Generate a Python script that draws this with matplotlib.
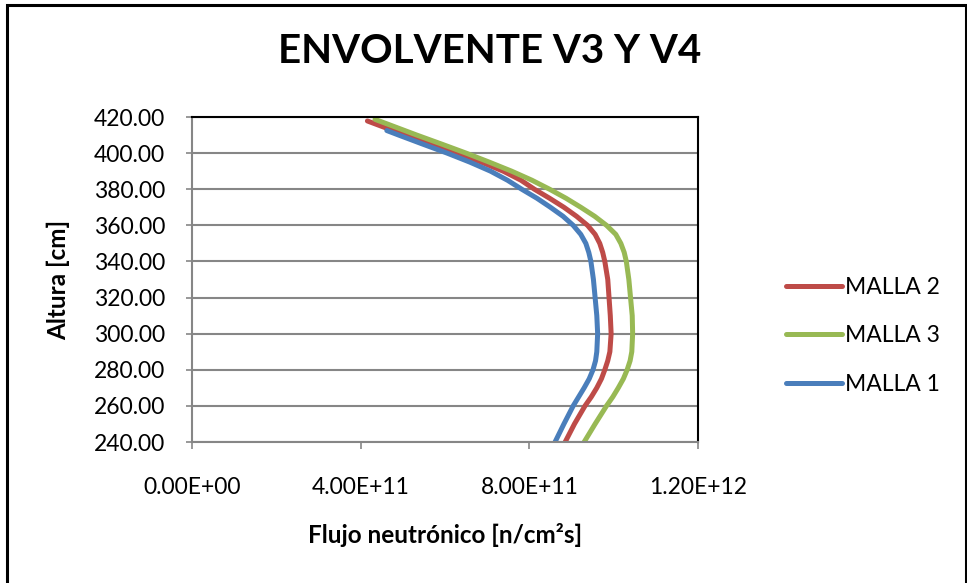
import matplotlib.pyplot as plt
import matplotlib.patches as patches
from matplotlib.ticker import FuncFormatter, MultipleLocator

# values (flux in units of 1e11 n/cm2s)
alt_m1 = [412.5, 410, 405, 400, 395, 390, 385, 380, 375, 370, 365, 360, 355, 350, 345, 340,
          330, 320, 310, 300, 290, 285, 280, 275, 270, 265, 260, 250, 240]
flux_m1 = [4.62, 4.90, 5.47, 6.05, 6.59, 7.08, 7.48, 7.82, 8.18, 8.50, 8.80, 9.04, 9.22, 9.34, 9.41, 9.46,
           9.52, 9.56, 9.60, 9.62, 9.60, 9.57, 9.51, 9.42, 9.30, 9.17, 9.04, 8.82, 8.61]

alt_m2 = [417.8, 410, 405, 400, 395, 390, 385, 380, 375, 370, 365, 360, 355, 350, 345, 340,
          330, 320, 310, 300, 290, 285, 280, 275, 270, 265, 260, 250, 240]
flux_m2 = [4.16, 5.05, 5.66, 6.27, 6.86, 7.38, 7.80, 8.12, 8.48, 8.82, 9.12, 9.38, 9.56, 9.67, 9.74, 9.79,
           9.86, 9.89, 9.92, 9.94, 9.91, 9.86, 9.79, 9.71, 9.60, 9.47, 9.32, 9.07, 8.85]

alt_m3 = [418.7, 410, 405, 400, 395, 390, 385, 380, 375, 370, 365, 360, 355, 350, 345, 340,
          330, 320, 310, 300, 290, 285, 280, 275, 270, 265, 260, 250, 240]
flux_m3 = [4.34, 5.33, 5.92, 6.50, 7.05, 7.58, 8.06, 8.48, 8.87, 9.22, 9.55, 9.83, 10.05, 10.17, 10.25, 10.30,
           10.36, 10.40, 10.44, 10.45, 10.43, 10.39, 10.32, 10.23, 10.11, 9.98, 9.83, 9.56, 9.30]

series = [
    ('MALLA 2', alt_m2, flux_m2, '#BE4B48'),
    ('MALLA 3', alt_m3, flux_m3, '#98B954'),
    ('MALLA 1', alt_m1, flux_m1, '#4A7EBB'),
]

plt.rcParams['font.family'] = ['Lato', 'DejaVu Sans']

W, H = 967, 583
fig = plt.figure(figsize=(W / 100, H / 100), dpi=100)

# outer chart border
fig.patches.append(patches.Rectangle((7 / W, -0.02), (966 - 7) / W, 1.02 - 5 / H,
                                     transform=fig.transFigure, fill=False,
                                     edgecolor='black', linewidth=2.2))

ax = fig.add_axes([192 / W, 1 - 442 / H, (698 - 192) / W, (442 - 117) / H])

for name, alt, flux, col in series:
    ax.plot([f * 1e11 for f in flux], alt, color=col, linewidth=3.6,
            solid_capstyle='round', solid_joinstyle='round', label=name)

ax.set_xlim(0, 1.2e12)
ax.set_ylim(240, 420)
ax.xaxis.set_major_locator(MultipleLocator(4e11))
ax.yaxis.set_major_locator(MultipleLocator(20))
ax.xaxis.set_major_formatter(FuncFormatter(lambda v, p: ('%.2E' % v)))
ax.yaxis.set_major_formatter(FuncFormatter(lambda v, p: '%.2f' % v))

ax.grid(axis='y', color='#868686', linewidth=1.5)
ax.set_axisbelow(True)
for s in ['top', 'right']:
    ax.spines[s].set_color('black')
    ax.spines[s].set_linewidth(1.5)
for s in ['left', 'bottom']:
    ax.spines[s].set_color('#868686')
    ax.spines[s].set_linewidth(1.5)

ax.tick_params(axis='y', direction='inout', length=9, width=1.2, color='#868686',
               labelsize=16.5, pad=15)
ax.tick_params(axis='x', direction='out', length=5, width=1.2, color='#868686',
               labelsize=16.5, pad=20)

ax.set_xlabel('Flujo neutrónico [n/cm²s]', fontsize=17.5, fontweight='bold', labelpad=18)
ax.set_ylabel('Altura [cm]', fontsize=17.5, fontweight='bold', labelpad=17)

fig.text(490 / W, 1 - 51.5 / H, 'ENVOLVENTE V3 Y V4', ha='center', va='center',
         fontsize=29, fontweight='bold')

ax.legend(loc='center left', bbox_to_anchor=(765 / W, 1 - 336 / H),
          bbox_transform=fig.transFigure, frameon=False, fontsize=16.5,
          handlelength=2.45, handletextpad=0.13, labelspacing=1.22)

fig.savefig('out.png', dpi=100)
